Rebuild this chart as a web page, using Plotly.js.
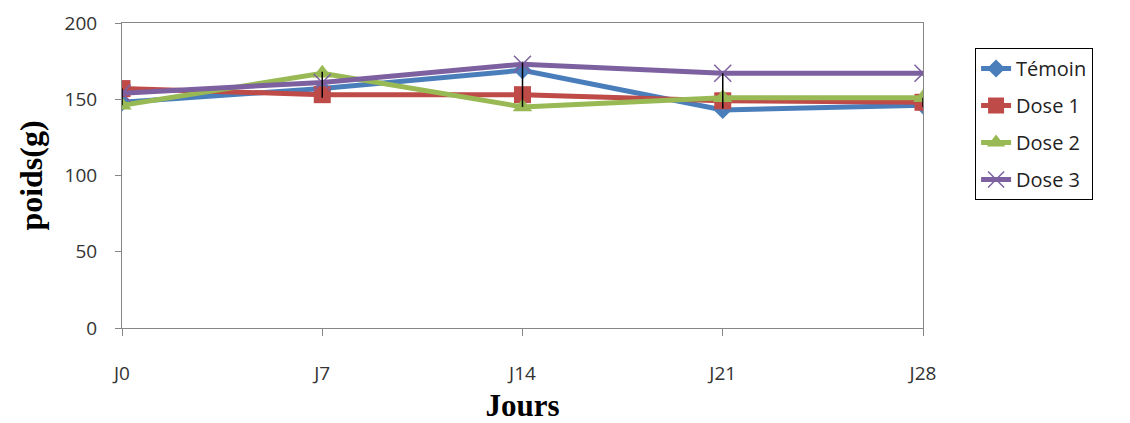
<!DOCTYPE html>
<html>
<head>
<meta charset="utf-8">
<script src="https://cdn.plot.ly/plotly-3.0.1.min.js"></script>
<style>html,body{margin:0;padding:0;background:#fff;}#chart{width:1130px;height:423px;}</style>
</head>
<body>
<div id="chart"></div>
<script>
const days = ["J0", "J7", "J14", "J21", "J28"];
const temoin = [148, 157, 169, 143, 146];
const dose1 = [157, 153, 153, 149, 148];
const dose2 = [146, 167, 145, 151, 151];
const dose3 = [154, 161, 173, 167, 167];
const errLow = [146, 151, 145, 144, 145];
const errHigh = [157, 168, 174, 167, 151];
const yTicks = [0, 50, 100, 150, 200];

const series = [
  {name: "Témoin", y: temoin, color: "#4A7EBB", symbol: "diamond", size: 14},
  {name: "Dose 1", y: dose1, color: "#BE4B48", symbol: "square", size: 17},
  {name: "Dose 2", y: dose2, color: "#98B954", symbol: "triangle-up", size: 17},
  {name: "Dose 3", y: dose3, color: "#7D60A0", symbol: "x-thin-open", size: 17}
];

const traces = series.map((s, i) => ({
  type: "scatter",
  mode: "lines+markers",
  x: days,
  y: s.y,
  name: s.name,
  legendgroup: "g" + i,
  line: {color: s.color, width: 5},
  marker: {color: s.color, symbol: s.symbol, size: s.size,
           line: {color: s.symbol === "x-thin-open" ? "#A99BC4" : s.color, width: s.symbol === "x-thin-open" ? 1.5 : 0}},
  hoverinfo: "x+y+name"
}));

traces.push({
  type: "scatter",
  mode: "markers",
  x: days,
  y: errLow,
  showlegend: false,
  hoverinfo: "skip",
  marker: {color: "rgba(0,0,0,0)", size: 1},
  error_y: {
    type: "data",
    symmetric: false,
    array: errHigh.map((h, i) => h - errLow[i]),
    arrayminus: errLow.map(() => 0),
    color: "#000000",
    thickness: 1.5,
    width: 0
  }
});

const layout = {
  width: 1130,
  height: 423,
  margin: {l: 122, r: 207, t: 23, b: 95},
  paper_bgcolor: "#ffffff",
  plot_bgcolor: "#ffffff",
  font: {family: "Open Sans, Liberation Sans, sans-serif", color: "#333333"},
  showlegend: true,
  legend: {
    x: 1.065, y: 0.918, xanchor: "left", yanchor: "top",
    bordercolor: "#000000", borderwidth: 1,
    font: {size: 20, color: "#222222", family: "Open Sans, sans-serif"},
    traceorder: "grouped",
    tracegroupgap: 8,
    bgcolor: "#ffffff"
  },
  xaxis: {
    type: "category",
    range: [0, 4],
    showgrid: false,
    zeroline: false,
    showline: true,
    linecolor: "#868686",
    linewidth: 1,
    mirror: true,
    ticks: "outside",
    ticklen: 7,
    tickcolor: "#868686",
    ticklabelstandoff: 21,
    tickfont: {size: 19, color: "#333333"},
    title: {text: "Jours", font: {family: "Liberation Serif, Times New Roman, serif", size: 31, color: "#000000", weight: "bold"}, standoff: 10}
  },
  yaxis: {
    range: [0, 200],
    tickvals: yTicks,
    ticktext: yTicks.map(String),
    showgrid: false,
    zeroline: false,
    showline: true,
    linecolor: "#868686",
    linewidth: 1,
    mirror: true,
    ticks: "outside",
    ticklen: 6,
    tickcolor: "#868686",
    ticklabelstandoff: 14,
    tickfont: {size: 19, color: "#333333"},
    title: {text: "poids(g)", font: {family: "Liberation Serif, Times New Roman, serif", size: 32, color: "#000000", weight: "bold"}, standoff: 12}
  }
};

Plotly.newPlot("chart", traces, layout, {displayModeBar: false, staticPlot: false});
</script>
</body>
</html>
